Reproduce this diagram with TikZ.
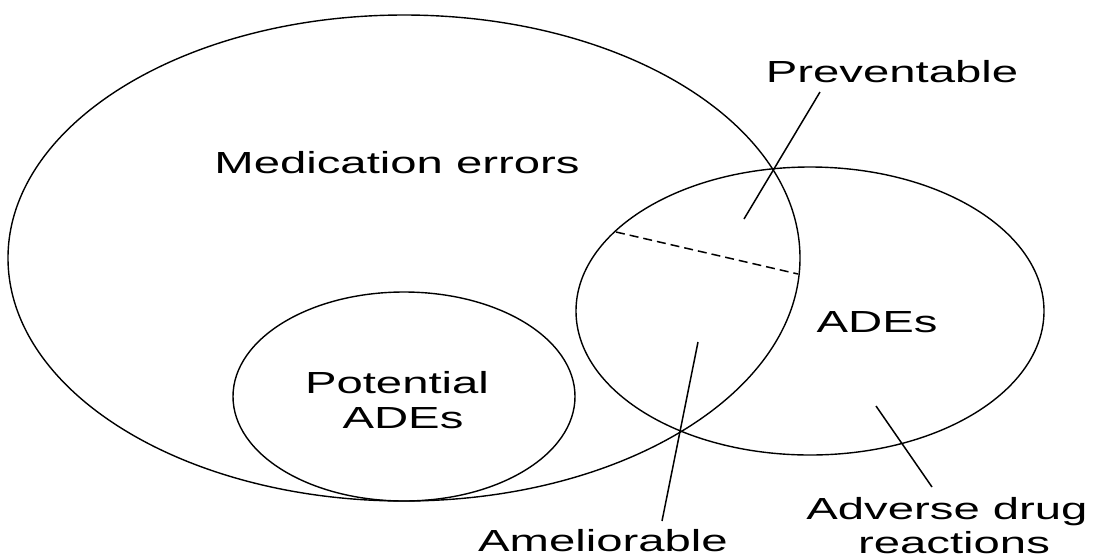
\documentclass[tikz,border=0pt]{standalone}
\usepackage{fontspec}
\setmainfont{Liberation Sans}
\usetikzlibrary{shapes.geometric}
\newcommand{\widetext}[1]{\scalebox{1.55}[1]{#1}}
\tikzset{
  set/.style={draw, ellipse, inner sep=0pt, line width=1.4pt},
  lbl/.style={font=\fontsize{30.5}{34}\selectfont, inner sep=0pt, align=center},
  leader/.style={line width=1.5pt},
}
\begin{document}
\begin{tikzpicture}[x=1pt,y=-1pt]
\useasboundingbox (0,0) rectangle (1098,558);
\fill[white] (0,0) rectangle (1098,558);
% sets
\node[set, minimum width=792pt, minimum height=486pt] (med) at (404,258) {};
\node[set, minimum width=342pt, minimum height=209pt] (pot) at (404,396.5) {};
\node[set, minimum width=468pt, minimum height=288pt] (ade) at (810,311) {};
% labels
\node[lbl, anchor=base] (tmed) at (397,173) {\widetext{Medication errors}};
\node[lbl, anchor=base] (tprev) at (892,82) {\widetext{Preventable}};
\node[lbl, anchor=base] (tade) at (877,332) {\widetext{ADEs}};
\node[lbl, anchor=base] (tpot1) at (397,393) {\widetext{Potential}};
\node[lbl, anchor=base] (tpot2) at (403,428) {\widetext{ADEs}};
\node[lbl, anchor=base] (tamel) at (603,551) {\widetext{Ameliorable}};
\node[lbl, anchor=base] (tadr1) at (947,519) {\widetext{Adverse drug}};
\node[lbl, anchor=base] (tadr2) at (954,553) {\widetext{reactions}};
% leader line ends
\coordinate (p1) at (820,92);
\coordinate (p2) at (744,219);
\coordinate (a1) at (698,342);
\coordinate (a2) at (662,521);
\coordinate (r1) at (876,406);
\coordinate (r2) at (932,487);
\coordinate (d1) at (616,232);
\coordinate (d2) at (798,274);
\draw[leader] (p1) -- (p2);
\draw[leader] (a1) -- (a2);
\draw[leader] (r1) -- (r2);
\draw[leader, dash pattern=on 9pt off 5pt] (d1) -- (d2);
\end{tikzpicture}
\end{document}
